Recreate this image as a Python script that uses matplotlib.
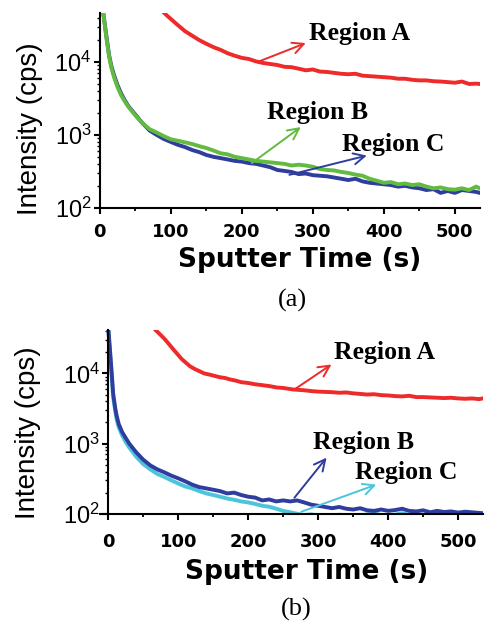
import matplotlib
matplotlib.use("Agg")
import matplotlib.pyplot as plt
from matplotlib.ticker import LogLocator, FixedLocator, NullFormatter

plt.rcParams["font.family"] = ["Liberation Sans", "DejaVu Sans"]
plt.rcParams["mathtext.default"] = "regular"

# ---- panel (a) data ----
t_a_A = [85, 90, 95, 100, 110, 120, 130, 140, 150, 160, 170, 180, 190, 200, 210, 220,
         230, 240, 250, 260, 270, 280, 290, 300, 310, 320, 330, 340, 350, 360, 370, 380,
         390, 400, 410, 420, 430, 440, 450, 460, 470, 480, 490, 500, 510, 520, 530, 535]
a_A = [5.3e4, 4.8e4, 4.3e4, 3.9e4, 3.2e4, 2.65e4, 2.3e4, 2.0e4, 1.78e4, 1.6e4, 1.47e4,
       1.32e4, 1.22e4, 1.14e4, 1.1e4, 1.02e4, 9.7e3, 9.4e3, 9.1e3, 8.6e3, 8.5e3, 8.1e3,
       7.7e3, 7.9e3, 7.4e3, 7.3e3, 7.1e3, 6.9e3, 6.8e3, 6.9e3, 6.5e3, 6.4e3, 6.3e3, 6.2e3,
       6.1e3, 5.9e3, 5.9e3, 5.7e3, 5.6e3, 5.6e3, 5.45e3, 5.4e3, 5.3e3, 5.2e3, 5.4e3, 5.0e3,
       5.05e3, 5.0e3]

t_a_BC = [3, 5, 7, 10, 13, 16, 20, 25, 30, 35, 40, 50, 60, 70, 80, 90, 100, 110, 120, 130,
          140, 150, 160, 170, 180, 190, 200, 210, 220, 230, 240, 250, 260, 270, 280, 290,
          300, 310, 320, 330, 340, 350, 360, 370, 380, 390, 400, 410, 420, 430, 440, 450,
          460, 470, 480, 490, 500, 510, 520, 530, 535]
a_B = [6e4, 4.5e4, 3.2e4, 1.9e4, 1.2e4, 8.5e3, 6.2e3, 4.5e3, 3.5e3, 2.9e3, 2.45e3, 1.85e3,
       1.45e3, 1.2e3, 1.08e3, 9.6e2, 8.7e2, 8.3e2, 7.9e2, 7.5e2, 7.0e2, 6.6e2, 6.1e2, 5.6e2,
       5.4e2, 5.0e2, 4.8e2, 4.6e2, 4.4e2, 4.3e2, 4.2e2, 4.1e2, 4.0e2, 3.8e2, 3.9e2, 3.8e2,
       3.65e2, 3.4e2, 3.3e2, 3.25e2, 3.1e2, 3.0e2, 2.85e2, 2.75e2, 2.5e2, 2.35e2, 2.2e2,
       2.25e2, 2.1e2, 2.15e2, 2.05e2, 2.1e2, 1.95e2, 1.85e2, 1.9e2, 1.8e2, 1.77e2, 1.85e2,
       1.75e2, 1.95e2, 1.85e2]
a_C = [6e4, 4.6e4, 3.3e4, 2.0e4, 1.25e4, 9.0e3, 6.6e3, 4.8e3, 3.7e3, 3.0e3, 2.5e3, 1.9e3,
       1.45e3, 1.15e3, 1.0e3, 8.8e2, 8.0e2, 7.3e2, 6.8e2, 6.2e2, 5.8e2, 5.3e2, 5.0e2, 4.8e2,
       4.6e2, 4.4e2, 4.3e2, 4.1e2, 4.0e2, 3.8e2, 3.6e2, 3.3e2, 3.2e2, 3.1e2, 2.9e2, 2.95e2,
       2.8e2, 2.75e2, 2.7e2, 2.6e2, 2.5e2, 2.4e2, 2.5e2, 2.3e2, 2.2e2, 2.15e2, 2.1e2, 2.05e2,
       1.95e2, 2.0e2, 1.9e2, 1.85e2, 1.75e2, 1.8e2, 1.6e2, 1.7e2, 1.6e2, 1.75e2, 1.7e2,
       1.65e2, 1.6e2]

# ---- panel (b) data ----
t_b_A = [60, 67, 74, 81, 87, 93, 99, 105, 111, 117, 124, 130, 137, 145, 152, 160, 167,
         174, 182, 190, 200, 210, 220, 230, 241, 250, 264, 270, 280, 290, 300, 310, 320,
         330, 340, 350, 360, 370, 380, 390, 400, 410, 420, 430, 440, 450, 460, 470, 480,
         490, 500, 510, 520, 530, 535]
b_A = [5.2e4, 4.2e4, 3.6e4, 3.06e4, 2.6e4, 2.2e4, 1.88e4, 1.6e4, 1.42e4, 1.26e4, 1.15e4,
       1.08e4, 1.0e4, 9.6e3, 9.2e3, 8.8e3, 8.6e3, 8.2e3, 7.9e3, 7.5e3, 7.3e3, 7.0e3,
       6.8e3, 6.6e3, 6.3e3, 6.2e3, 5.9e3, 5.85e3, 5.75e3, 5.6e3, 5.5e3, 5.45e3, 5.4e3,
       5.3e3, 5.35e3, 5.2e3, 5.1e3, 5.0e3, 5.05e3, 4.9e3, 4.85e3, 4.75e3, 4.7e3, 4.8e3,
       4.6e3, 4.6e3, 4.55e3, 4.5e3, 4.45e3, 4.5e3, 4.4e3, 4.35e3, 4.4e3, 4.3e3, 4.4e3]

t_b_BC = [0, 2, 5, 7, 10, 12, 15, 20, 25, 30, 40, 50, 60, 70, 80, 90, 100, 110, 120, 130,
          140, 150, 160, 170, 180, 190, 200, 210, 220, 230, 240, 250, 260, 270, 280, 290,
          300, 310, 320, 330, 340, 350, 360, 370, 380, 390, 400, 410, 420, 430, 440, 450,
          460, 470, 480, 490, 500, 510, 520, 530, 535]
b_B = [4.5e4, 2.5e4, 1.0e4, 5.2e3, 3.2e3, 2.5e3, 1.9e3, 1.45e3, 1.2e3, 1.0e3, 7.5e2,
       5.9e2, 4.9e2, 4.3e2, 3.9e2, 3.5e2, 3.2e2, 2.9e2, 2.6e2, 2.4e2, 2.3e2, 2.2e2, 2.1e2,
       1.95e2, 2.0e2, 1.85e2, 1.75e2, 1.7e2, 1.55e2, 1.6e2, 1.5e2, 1.55e2, 1.5e2, 1.55e2,
       1.45e2, 1.35e2, 1.3e2, 1.25e2, 1.2e2, 1.25e2, 1.18e2, 1.15e2, 1.2e2, 1.12e2, 1.1e2,
       1.15e2, 1.1e2, 1.13e2, 1.18e2, 1.1e2, 1.08e2, 1.12e2, 1.05e2, 1.1e2, 1.06e2, 1.08e2,
       1.04e2, 1.07e2, 1.05e2, 1.03e2, 1.02e2]
b_C = [4.4e4, 2.3e4, 9e3, 4.6e3, 2.9e3, 2.2e3, 1.7e3, 1.3e3, 1.05e3, 8.8e2, 6.5e2, 5.1e2,
       4.3e2, 3.7e2, 3.35e2, 3.0e2, 2.7e2, 2.45e2, 2.3e2, 2.1e2, 1.95e2, 1.85e2, 1.75e2,
       1.65e2, 1.58e2, 1.5e2, 1.45e2, 1.38e2, 1.3e2, 1.26e2, 1.18e2, 1.1e2, 1.05e2, 1.0e2,
       9.6e1, 9.8e1, 9.5e1, 9.6e1, 9.4e1, 9.7e1, 9.5e1, 9.6e1, 9.4e1, 9.8e1, 1.01e2, 9.6e1,
       9.5e1, 9.7e1, 1.02e2, 9.6e1, 9.5e1, 9.4e1, 9.7e1, 9.5e1, 9.6e1, 9.4e1, 9.5e1, 9.6e1,
       9.4e1, 9.5e1, 9.4e1]

RED = "#ee2a2a"
GREEN = "#62bb40"
BLUE = "#2e3d9e"
CYAN = "#4cc4dc"

# (label, text position, arrow tail, arrow head, colour)
labels_a = [
    ("Region A", (295, 2.5e4), (222, 1.0e4), (290, 1.82e4), RED),
    ("Region B", (235, 2.0e3), (214, 4.1e2), (283, 1.28e3), GREEN),
    ("Region C", (341, 7.3e2), (267, 2.83e2), (376, 5.2e2), BLUE),
]
labels_b = [
    ("Region A", (323, 2.0e4), (266, 5.9e3), (319, 1.34e4), RED),
    ("Region B", (292, 1.03e3), (266, 1.69e2), (312, 6.3e2), BLUE),
    ("Region C", (352, 3.85e2), (276, 1.07e2), (383, 2.6e2), CYAN),
]


def style_axes(ax, xmin, ymax, ylab_xy, tick_pad, xlab_xy):
    ax.set_yscale("log")
    ax.set_xlim(xmin, 535)
    ax.set_ylim(100, ymax)
    for s in ("top", "right"):
        ax.spines[s].set_visible(False)
    for s in ("left", "bottom"):
        ax.spines[s].set_linewidth(1.5)
    ax.spines["left"].set_position(("data", 0))
    ax.xaxis.set_major_locator(FixedLocator([0, 100, 200, 300, 400, 500]))
    ax.xaxis.set_minor_locator(FixedLocator([50, 150, 250, 350, 450]))
    ax.yaxis.set_major_locator(LogLocator(base=10, numticks=10))
    ax.yaxis.set_minor_locator(LogLocator(base=10, subs=range(2, 10), numticks=10))
    ax.yaxis.set_minor_formatter(NullFormatter())
    ax.tick_params(axis="x", which="major", direction="out", length=4, width=1.5,
                   labelsize=13, pad=tick_pad)
    ax.tick_params(axis="x", which="minor", direction="out", length=2.5, width=1.3)
    ax.tick_params(axis="y", which="major", direction="out", length=4, width=1.5,
                   labelsize=17, pad=2)
    ax.tick_params(axis="y", which="minor", direction="out", length=2.5, width=1.0)
    for lbl in ax.get_xticklabels():
        lbl.set_fontweight("bold")
        lbl.set_family("DejaVu Sans")
    ax.set_xlabel("Sputter Time (s)", fontsize=19, fontweight="bold",
                  family="DejaVu Sans")
    ax.xaxis.set_label_coords(*xlab_xy)
    ax.set_ylabel("Intensity (cps)", fontsize=20)
    ax.yaxis.set_label_coords(*ylab_xy)


def add_labels(ax, items):
    for text, txy, tail, head, col in items:
        ax.annotate("", xy=head, xytext=tail,
                    arrowprops=dict(arrowstyle="->", color=col, lw=1.4,
                                    mutation_scale=20, shrinkA=0, shrinkB=0))
        ax.text(txy[0], txy[1], text, fontsize=18.5, fontweight="bold",
                family="Liberation Serif", ha="left", va="center")


fig = plt.figure(figsize=(4.87, 6.22), dpi=100)

ax1 = fig.add_axes([0.205, 0.666, 0.780, 0.313])
ax1.plot(t_a_A, a_A, color=RED, lw=2.8)
ax1.plot(t_a_BC, a_C, color=BLUE, lw=2.8)
ax1.plot(t_a_BC, a_B, color=GREEN, lw=2.8)
style_axes(ax1, 0, 4.7e4, (-0.15, 0.405), 6.8, (0.526, -0.20))
add_labels(ax1, labels_a)

ax2 = fig.add_axes([0.205, 0.174, 0.786, 0.296])
ax2.plot(t_b_A, b_A, color=RED, lw=2.8)
ax2.plot(t_b_BC, b_C, color=CYAN, lw=2.8)
ax2.plot(t_b_BC, b_B, color=BLUE, lw=2.8)
style_axes(ax2, -12, 4.2e4, (-0.155, 0.44), 9.6, (0.54, -0.245))
add_labels(ax2, labels_b)

fig.text(0.600, 1 - 300 / 622, "(a)", fontsize=19, family="Liberation Serif",
         ha="center", va="center")
fig.text(0.608, 1 - 609 / 622, "(b)", fontsize=19, family="Liberation Serif",
         ha="center", va="center")

fig.savefig("out.png", dpi=100)
